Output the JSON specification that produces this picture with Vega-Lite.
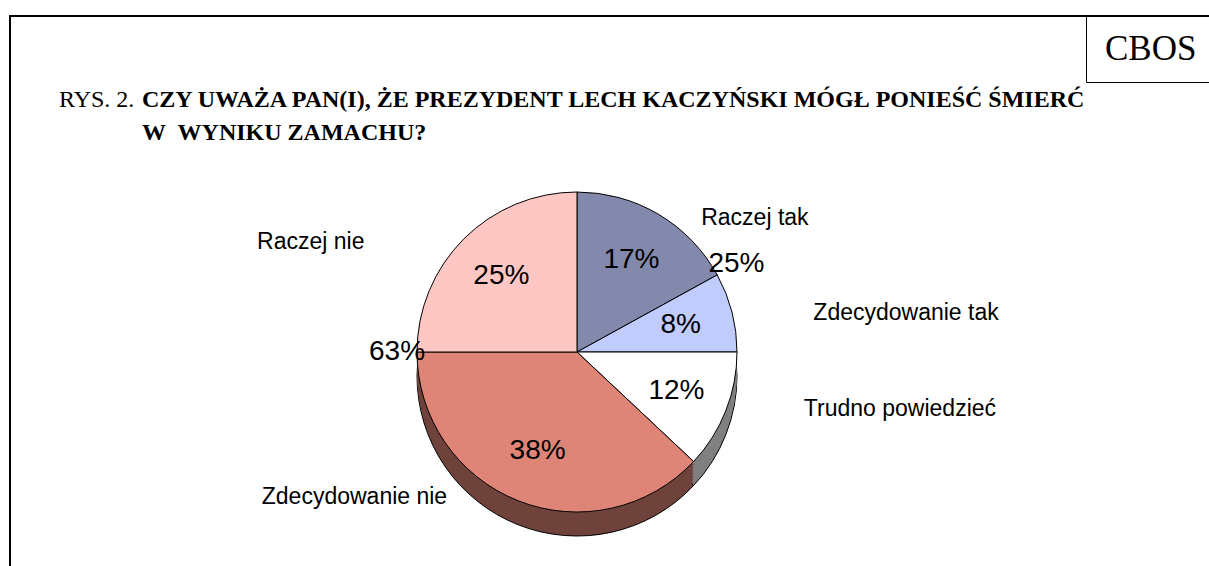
{
  "$schema": "https://vega.github.io/schema/vega-lite/v6.json",
  "background": "white",
  "padding": {"left": 9, "top": 14, "right": 0, "bottom": 0},
  "title": {
    "text": "RYS. 2.",
    "anchor": "start",
    "frame": "bounds",
    "font": "Liberation Serif",
    "fontSize": 24,
    "fontWeight": "normal",
    "color": "black",
    "baseline": "alphabetic",
    "offset": -116,
    "dx": 50
  },
  "hconcat": [
    {
      "width": 1202,
      "height": 672,
      "view": {"stroke": "black", "strokeWidth": 2, "fill": "white"},
      "title": {
        "text": ["CZY UWAŻA PAN(I), ŻE PREZYDENT LECH KACZYŃSKI MÓGŁ PONIEŚĆ ŚMIERĆ", "W\u00a0 WYNIKU ZAMACHU?"],
        "anchor": "start",
        "frame": "group",
        "font": "Liberation Serif",
        "fontSize": 24,
        "fontWeight": "bold",
        "color": "black",
        "baseline": "alphabetic",
        "lineHeight": 33,
        "offset": -148,
        "dx": 132
      },
      "data": {
        "values": [
          {"kategoria": "Raczej tak", "procent": 17, "grupa": "tak", "zrodlo": "CBOS"},
          {"kategoria": "Zdecydowanie tak", "procent": 8, "grupa": "tak", "zrodlo": "CBOS"},
          {"kategoria": "Trudno powiedzieć", "procent": 12, "grupa": "trudno", "zrodlo": "CBOS"},
          {"kategoria": "Zdecydowanie nie", "procent": 38, "grupa": "nie", "zrodlo": "CBOS"},
          {"kategoria": "Raczej nie", "procent": 25, "grupa": "nie", "zrodlo": "CBOS"}
        ]
      },
      "transform": [
        {"window": [{"op": "row_number", "as": "kolejnosc"}]},
        {"calculate": "datum.procent + '%'", "as": "etykieta"}
      ],
      "layer": [
        {
          "mark": {"type": "arc", "radius": 160, "xOffset": -34, "yOffset": 24, "stroke": "black", "strokeWidth": 1},
          "encoding": {
            "theta": {"field": "procent", "type": "quantitative", "stack": true, "scale": {"domain": [0, 100]}},
            "order": {"field": "kolejnosc", "type": "quantitative"},
            "color": {"field": "kategoria", "type": "nominal", "legend": null,
              "scale": {"domain": ["Raczej tak", "Zdecydowanie tak", "Trudno powiedzieć", "Zdecydowanie nie", "Raczej nie"],
                        "range": ["#41455A", "#60667F", "#808080", "#6F433B", "#806362"]}}
          }
        },
        {
          "mark": {"type": "arc", "radius": 160, "xOffset": -34, "yOffset": 21, "strokeWidth": 0},
          "encoding": {
            "theta": {"field": "procent", "type": "quantitative", "stack": true},
            "order": {"field": "kolejnosc", "type": "quantitative"},
            "color": {"field": "kategoria", "type": "nominal", "legend": null,
              "scale": {"domain": ["Raczej tak", "Zdecydowanie tak", "Trudno powiedzieć", "Zdecydowanie nie", "Raczej nie"],
                        "range": ["#41455A", "#60667F", "#808080", "#6F433B", "#806362"]}}
          }
        },
        {
          "mark": {"type": "arc", "radius": 160, "xOffset": -34, "yOffset": 18, "strokeWidth": 0},
          "encoding": {
            "theta": {"field": "procent", "type": "quantitative", "stack": true},
            "order": {"field": "kolejnosc", "type": "quantitative"},
            "color": {"field": "kategoria", "type": "nominal", "legend": null,
              "scale": {"domain": ["Raczej tak", "Zdecydowanie tak", "Trudno powiedzieć", "Zdecydowanie nie", "Raczej nie"],
                        "range": ["#41455A", "#60667F", "#808080", "#6F433B", "#806362"]}}
          }
        },
        {
          "mark": {"type": "arc", "radius": 160, "xOffset": -34, "yOffset": 15, "strokeWidth": 0},
          "encoding": {
            "theta": {"field": "procent", "type": "quantitative", "stack": true},
            "order": {"field": "kolejnosc", "type": "quantitative"},
            "color": {"field": "kategoria", "type": "nominal", "legend": null,
              "scale": {"domain": ["Raczej tak", "Zdecydowanie tak", "Trudno powiedzieć", "Zdecydowanie nie", "Raczej nie"],
                        "range": ["#41455A", "#60667F", "#808080", "#6F433B", "#806362"]}}
          }
        },
        {
          "mark": {"type": "arc", "radius": 160, "xOffset": -34, "yOffset": 12, "strokeWidth": 0},
          "encoding": {
            "theta": {"field": "procent", "type": "quantitative", "stack": true},
            "order": {"field": "kolejnosc", "type": "quantitative"},
            "color": {"field": "kategoria", "type": "nominal", "legend": null,
              "scale": {"domain": ["Raczej tak", "Zdecydowanie tak", "Trudno powiedzieć", "Zdecydowanie nie", "Raczej nie"],
                        "range": ["#41455A", "#60667F", "#808080", "#6F433B", "#806362"]}}
          }
        },
        {
          "mark": {"type": "arc", "radius": 160, "xOffset": -34, "yOffset": 9, "strokeWidth": 0},
          "encoding": {
            "theta": {"field": "procent", "type": "quantitative", "stack": true},
            "order": {"field": "kolejnosc", "type": "quantitative"},
            "color": {"field": "kategoria", "type": "nominal", "legend": null,
              "scale": {"domain": ["Raczej tak", "Zdecydowanie tak", "Trudno powiedzieć", "Zdecydowanie nie", "Raczej nie"],
                        "range": ["#41455A", "#60667F", "#808080", "#6F433B", "#806362"]}}
          }
        },
        {
          "mark": {"type": "arc", "radius": 160, "xOffset": -34, "yOffset": 6, "strokeWidth": 0},
          "encoding": {
            "theta": {"field": "procent", "type": "quantitative", "stack": true},
            "order": {"field": "kolejnosc", "type": "quantitative"},
            "color": {"field": "kategoria", "type": "nominal", "legend": null,
              "scale": {"domain": ["Raczej tak", "Zdecydowanie tak", "Trudno powiedzieć", "Zdecydowanie nie", "Raczej nie"],
                        "range": ["#41455A", "#60667F", "#808080", "#6F433B", "#806362"]}}
          }
        },
        {
          "mark": {"type": "arc", "radius": 160, "xOffset": -34, "yOffset": 3, "strokeWidth": 0},
          "encoding": {
            "theta": {"field": "procent", "type": "quantitative", "stack": true},
            "order": {"field": "kolejnosc", "type": "quantitative"},
            "color": {"field": "kategoria", "type": "nominal", "legend": null,
              "scale": {"domain": ["Raczej tak", "Zdecydowanie tak", "Trudno powiedzieć", "Zdecydowanie nie", "Raczej nie"],
                        "range": ["#41455A", "#60667F", "#808080", "#6F433B", "#806362"]}}
          }
        },
        {
          "mark": {"type": "arc", "radius": 160, "xOffset": -34, "stroke": "black", "strokeWidth": 1},
          "encoding": {
            "theta": {"field": "procent", "type": "quantitative", "stack": true},
            "order": {"field": "kolejnosc", "type": "quantitative"},
            "color": {"field": "kategoria", "type": "nominal", "legend": null,
              "scale": {"domain": ["Raczej tak", "Zdecydowanie tak", "Trudno powiedzieć", "Zdecydowanie nie", "Raczej nie"],
                        "range": ["#8389AC", "#C0CBFE", "#FFFFFF", "#DE8577", "#FFC7C4"]}}
          }
        },
        {
          "mark": {"type": "text", "radius": 107, "xOffset": -34, "font": "Liberation Sans", "fontSize": 28, "fill": "black", "baseline": "middle", "align": "center"},
          "encoding": {
            "theta": {"field": "procent", "type": "quantitative", "stack": true},
            "order": {"field": "kolejnosc", "type": "quantitative"},
            "text": {"field": "etykieta", "type": "nominal"}
          }
        },
        {
          "mark": {"type": "text", "radius": 195, "xOffset": -34, "font": "Liberation Sans", "fontSize": 23, "baseline": "middle",
                   "align": {"expr": "datum.procent_start + datum.procent_end > 100 ? 'right' : 'left'"},
                   "dx": {"expr": "49 * sin(PI * (datum.procent_start + datum.procent_end) / 100) + (datum.procent_start + datum.procent_end > 100 ? -40 : 0)"},
                   "dy": {"expr": "39 * cos(PI * (datum.procent_start + datum.procent_end) / 100)"}},
          "encoding": {
            "theta": {"field": "procent", "type": "quantitative", "stack": true},
            "order": {"field": "kolejnosc", "type": "quantitative"},
            "text": {"field": "kategoria", "type": "nominal"},
            "color": {"field": "zrodlo", "type": "nominal",
              "scale": {"range": ["#000000"]},
              "legend": {"orient": "top-right", "offset": 0, "padding": 15, "strokeColor": "black", "fillColor": "white",
                         "cornerRadius": 0, "title": null, "symbolSize": 0, "symbolOpacity": 0, "symbolStrokeWidth": 0,
                         "labelOffset": -31, "labelFont": "Liberation Serif", "labelFontSize": 35, "labelColor": "black", "labelLimit": 0}}
          }
        },
        {
          "transform": [
            {"filter": "datum.grupa == 'tak'"},
            {"aggregate": [{"op": "sum", "field": "procent", "as": "suma"}]},
            {"calculate": "datum.suma + '%'", "as": "tekst"}
          ],
          "mark": {"type": "text", "radius": 182, "xOffset": -34, "font": "Liberation Sans", "fontSize": 28, "fill": "black", "baseline": "middle", "align": "center"},
          "encoding": {
            "theta": {"datum": 17, "type": "quantitative"},
            "text": {"field": "tekst", "type": "nominal"}
          }
        },
        {
          "transform": [
            {"filter": "datum.grupa == 'nie'"},
            {"aggregate": [{"op": "sum", "field": "procent", "as": "suma"}]},
            {"calculate": "datum.suma + '%'", "as": "tekst"}
          ],
          "mark": {"type": "text", "radius": 180, "xOffset": -34, "font": "Liberation Sans", "fontSize": 28, "fill": "black", "baseline": "middle", "align": "center"},
          "encoding": {
            "theta": {"datum": 75, "type": "quantitative"},
            "text": {"field": "tekst", "type": "nominal"}
          }
        }
      ],
      "resolve": {"scale": {"color": "independent"}}
    }
  ],
  "config": {
    "view": {"stroke": "black", "strokeWidth": 2},
    "concat": {"spacing": 0}
  }
}
